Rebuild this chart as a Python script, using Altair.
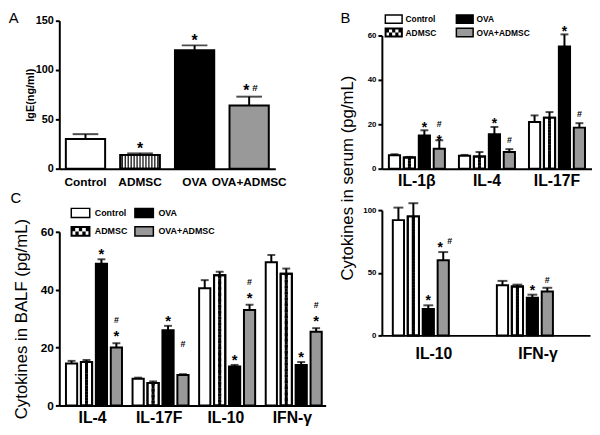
import altair as alt
import pandas as pd

FONT = "Liberation Sans"
GROUPS = ["Control", "ADMSC", "OVA", "OVA+ADMSC"]
FILL_RANGE = ["white", "black", "black", "#999999"]

# ---------------- data ----------------
# Panel A: IgE (ng/ml)
a_values = [30, 14, 120, 64]
a_sem = [5, 1.5, 5, 9]
a_marks = ["", "*", "*", "*#"]

# Panel B (top): cytokines in serum
b1_cytokines = ["IL-1β", "IL-4", "IL-17F"]
b1_control = [6, 5.8, 21]
b1_control_sem = [0.5, 0.4, 3]
b1_admsc = [5, 5.5, 23]
b1_admsc_sem = [0.3, 2, 2.5]
b1_ova = [15, 15.5, 55]
b1_ova_sem = [2.3, 3.3, 5.5]
b1_combo = [9, 7.5, 18.5]
b1_combo_sem = [3.8, 1.3, 2]
b1_ova_marks = ["*", "*", "*"]
b1_combo_marks = ["#*", "#", "#"]

# Panel B (bottom): cytokines in serum
b2_cytokines = ["IL-10", "IFN-γ"]
b2_control = [92, 40]
b2_control_sem = [10, 3.5]
b2_admsc = [95, 39]
b2_admsc_sem = [10.5, 1.5]
b2_ova = [21, 30]
b2_ova_sem = [3, 2.5]
b2_combo = [60, 35]
b2_combo_sem = [6.5, 3]
b2_ova_marks = ["*", "*"]
b2_combo_marks = ["*#", "#"]

# Panel C: cytokines in BALF
c_cytokines = ["IL-4", "IL-17F", "IL-10", "IFN-γ"]
c_control = [14.5, 9.2, 40.5, 49.5]
c_control_sem = [0.9, 0.4, 2.8, 2.5]
c_admsc = [15, 7.8, 45, 45.5]
c_admsc_sem = [0.7, 0.5, 1.2, 1.8]
c_ova = [49, 26, 13.5, 14]
c_ova_sem = [1.5, 1.5, 0.5, 1]
c_combo = [20, 10.5, 33, 25.5]
c_combo_sem = [1.5, 0.3, 1.8, 1.2]
c_ova_marks = ["*", "*", "*", "*"]
c_combo_marks = ["#*", "#", "#*", "#*"]


def build(cats, vals, sems, marks):
    rows = []
    for g, v, s, m in zip(GROUPS, vals, sems, marks):
        for i, c in enumerate(cats):
            rows.append({"cat": c, "sub": g, "group": g, "value": v[i],
                         "upper": v[i] + s[i], "mark": m[i]})
    return pd.DataFrame(rows)


df_a = pd.DataFrame({"cat": GROUPS, "sub": GROUPS, "group": GROUPS, "value": a_values,
                     "upper": [v + s for v, s in zip(a_values, a_sem)], "mark": a_marks})
blank3 = ["", "", ""]
df_b1 = build(b1_cytokines, [b1_control, b1_admsc, b1_ova, b1_combo],
              [b1_control_sem, b1_admsc_sem, b1_ova_sem, b1_combo_sem],
              [blank3, blank3, b1_ova_marks, b1_combo_marks])
df_b2 = build(b2_cytokines, [b2_control, b2_admsc, b2_ova, b2_combo],
              [b2_control_sem, b2_admsc_sem, b2_ova_sem, b2_combo_sem],
              [["", ""], ["", ""], b2_ova_marks, b2_combo_marks])
df_c = build(c_cytokines, [c_control, c_admsc, c_ova, c_combo],
             [c_control_sem, c_admsc_sem, c_ova_sem, c_combo_sem],
             [[""] * 4, [""] * 4, c_ova_marks, c_combo_marks])


# ---------------- legend symbol shapes ----------------
def rpath(x0, y0, x1, y1, cw=True):
    f = lambda v: f"{round(v, 3)}"
    if cw:
        return f"M{f(x0)},{f(y0)}H{f(x1)}V{f(y1)}H{f(x0)}Z"
    return f"M{f(x0)},{f(y0)}V{f(y1)}H{f(x1)}V{f(y0)}Z"


HW, HH = 1.7, 0.85
RECT_PATH = rpath(-HW, -HH, HW, HH)
t = 0.1
ix0, ix1, iy0, iy1 = -HW + t, HW - t, -HH + t, HH - t
ncol, nrow = 5, 2
cwid, chei = (ix1 - ix0) / ncol, (iy1 - iy0) / nrow
sh = 0.15
cells = "".join(
    rpath(ix0 + c * cwid + sh, iy0 + r * chei + sh, ix0 + (c + 1) * cwid - sh, iy0 + (r + 1) * chei - sh)
    for r in range(nrow) for c in range(ncol) if (r + c) % 2 == 0)
CHECK_PATH = RECT_PATH + rpath(ix0, iy0, ix1, iy1, cw=False) + cells
SHAPE_RANGE = [RECT_PATH, CHECK_PATH, RECT_PATH, RECT_PATH]


def make_legend(x, y, size, font_size, col_pad, row_pad, label_off):
    return alt.Legend(title=None, orient="none", legendX=x, legendY=y, columns=2,
                      columnPadding=col_pad, rowPadding=row_pad, symbolSize=size,
                      symbolStrokeColor="black", symbolStrokeWidth=1.5, symbolOpacity=1,
                      labelFont=FONT, labelFontSize=font_size, labelFontWeight="bold",
                      labelColor="black", labelOffset=label_off)


def sub_bandwidth(width, ncat, pin, pout, nsub, spin):
    step = width / (ncat - pin + 2 * pout)
    group_bw = step * (1 - pin)
    sub_step = group_bw / (nsub - spin)
    return sub_step * (1 - spin)


def panel(df, cats, *, w, h, top, ydom, yticks, pad_in, pad_out, sub_pad, ylab, xlab, xlab_pad,
          cap, pattern, star_fs, hash_fs, star_dy, hash_dy, side=None, stack=None,
          legend=None, yaxis_extra=None):
    grouped = sub_pad is not None
    x = alt.X("cat:N", sort=cats, scale=alt.Scale(paddingInner=pad_in, paddingOuter=pad_out),
              axis=alt.Axis(title=None, labelFontSize=xlab, labelPadding=xlab_pad, ticks=False,
                            labelAngle=0, labelFontWeight="bold"))
    ysc = alt.Scale(domain=ydom, nice=False, range=[h, top])
    ax_kw = dict(values=yticks, labelFontSize=ylab, labelPadding=2, title=None)
    if yaxis_extra:
        ax_kw.update(yaxis_extra)
    yax = alt.Axis(**ax_kw)
    yv = alt.Y("value:Q", scale=ysc, axis=yax)
    yu = alt.Y("upper:Q", scale=ysc, axis=yax)
    if grouped:
        xo_scale = alt.Scale(paddingInner=sub_pad, paddingOuter=0)
        base = alt.Chart(df).encode(x=x, xOffset=alt.XOffset("sub:N", sort=GROUPS, scale=xo_scale))
    else:
        base = alt.Chart(df).encode(x=x)
    fill_scale = alt.Scale(domain=GROUPS, range=FILL_RANGE)
    layers = []
    if legend is not None:
        # hidden carrier for the legend's symbol shapes (sits under the bars' outline)
        layers.append(base.mark_point(filled=True, size=1, strokeWidth=1).encode(
            y=yv,
            fill=alt.Fill("group:N", scale=fill_scale, legend=legend),
            shape=alt.Shape("group:N", scale=alt.Scale(domain=GROUPS, range=SHAPE_RANGE),
                            legend=legend),
            stroke=alt.Stroke("group:N", scale=alt.Scale(domain=GROUPS, range=["black"] * 4),
                              legend=legend)))
    fill = alt.condition("datum.group === 'ADMSC'", alt.value("white"),
                         alt.Fill("group:N", scale=fill_scale, legend=legend))
    layers.append(base.mark_bar(stroke="black", strokeWidth=2).encode(y=yv, fill=fill))
    adm = base.transform_filter("datum.group === 'ADMSC'")
    if pattern == "stripes":
        for k in range(-6, 7):
            layers.append(adm.mark_rule(color="black", strokeWidth=1.2, xOffset=3 * k)
                          .encode(y=yv, y2=alt.datum(0)))
    else:
        n, bw = pattern
        for i in range(n):
            off = (i - (n - 1) / 2) * 3
            layers.append(adm.mark_rule(color="black", strokeWidth=3, strokeDash=[3, 3],
                                        strokeDashOffset=3 * (i % 2))
                          .encode(xOffset=alt.XOffset("sub:N", sort=GROUPS, scale=xo_scale,
                                                      bandPosition=0.5 + off / bw),
                                  y=yv, y2=alt.datum(0)))
    layers.append(adm.mark_bar(fill="transparent", stroke="black", strokeWidth=2).encode(y=yv))
    layers.append(base.mark_rule(color="black", strokeWidth=2).encode(y=yv, y2="upper:Q"))
    layers.append(base.mark_tick(color="black", thickness=2, size=cap).encode(y=yu))

    def txt(code, char, fs, dy, dx=0):
        return (base.transform_filter(alt.datum.mark == code)
                .mark_text(text=char, fontSize=fs, dy=dy, dx=dx, baseline="alphabetic",
                           font=FONT, fontWeight="bold", color="black")
                .encode(y=yu))

    layers.append(txt("*", "*", star_fs, star_dy))
    layers.append(txt("#", "#", hash_fs, hash_dy))
    if side:
        layers.append(txt("*#", "*", star_fs, side[0], side[1]))
        layers.append(txt("*#", "#", hash_fs, side[2], side[3]))
    if stack:
        layers.append(txt("#*", "*", star_fs, stack[0]))
        layers.append(txt("#*", "#", hash_fs, stack[1]))
    return alt.layer(*layers).properties(width=w, height=h)


def letter(t, dx, dy):
    return alt.TitleParams(t, anchor="start", orient="top", fontSize=15, fontWeight="normal",
                           font=FONT, color="black", dx=dx, dy=dy, offset=0)


pA = panel(df_a, GROUPS, w=219, h=150, top=0, ydom=[0, 150], yticks=[0, 50, 100, 150],
           pad_in=0.28, pad_out=0.12, sub_pad=None, ylab=11, xlab=12, xlab_pad=8,
           cap=26, pattern="stripes", star_fs=16, hash_fs=10, star_dy=1, hash_dy=-6,
           side=(-1, -3, -6, 6),
           yaxis_extra=dict(title="IgE(ng/ml)", titleFontSize=11, titleFontWeight="bold",
                            titlePadding=0),
           ).properties(title=letter("A", -16, 11))

pB1 = panel(df_b1, b1_cytokines, w=213, h=150, top=15, ydom=[0, 60], yticks=[0, 20, 40, 60],
            pad_in=0.2, pad_out=0.1, sub_pad=0.25, ylab=8, xlab=16, xlab_pad=4,
            cap=8, pattern=(3, sub_bandwidth(213, 3, 0.2, 0.1, 4, 0.25)),
            star_fs=14, hash_fs=9, star_dy=1.5, hash_dy=-6, stack=(4.5, -13),
            legend=make_legend(6, -8, 100, 8.5, 16, -7, 6),
            ).properties(title=letter("B", -27, 13))

pC = panel(df_c, c_cytokines, w=270, h=198, top=22, ydom=[0, 60], yticks=[0, 20, 40, 60],
           pad_in=0.2, pad_out=0.1, sub_pad=0.25, ylab=12, xlab=16, xlab_pad=4,
           cap=8, pattern=(3, sub_bandwidth(270, 4, 0.2, 0.1, 4, 0.25)),
           star_fs=15, hash_fs=9, star_dy=0, hash_dy=-28, stack=(-2, -20),
           legend=make_legend(15, -4, 121, 9, 4.5, 2, 8),
           yaxis_extra=dict(title="Cytokines in BALF (pg/mL)", titleFontSize=17,
                            titleFontWeight="normal", titlePadding=10),
           ).properties(title=letter("C", -2, 0))

pB2 = panel(df_b2, b2_cytokines, w=211, h=127, top=0, ydom=[0, 100], yticks=[0, 50, 100],
            pad_in=0.21, pad_out=0.105, sub_pad=0.35, ylab=8, xlab=16, xlab_pad=10,
            cap=10, pattern=(4, sub_bandwidth(211, 2, 0.21, 0.105, 4, 0.35)),
            star_fs=14, hash_fs=9, star_dy=0, hash_dy=-5, side=(-0.5, -3, -8, 6.5),
            yaxis_extra=dict(title="Cytokines in serum (pg/mL)", titleFontSize=17,
                             titleFontWeight="normal", titleX=-35, titleY=-33,
                             titleBaseline="middle", titleAngle=270))

ind = dict(fill="independent", shape="independent", stroke="independent")
chart = (alt.concat(pA, pB1, pC, pB2, columns=2, spacing={"row": 42, "column": 57},
                    bounds="flush", align="each")
         .resolve_scale(**ind).resolve_legend(**ind)
         .properties(padding=0, background="white")
         .configure_view(strokeWidth=0)
         .configure_axis(domainColor="black", domainWidth=2, tickColor="black", tickWidth=2,
                         tickSize=4, labelColor="black", labelFont=FONT, labelFontWeight="bold",
                         titleFont=FONT, titleColor="black", grid=False))

chart.save("out.html", embed_options={"renderer": "svg", "actions": False})
